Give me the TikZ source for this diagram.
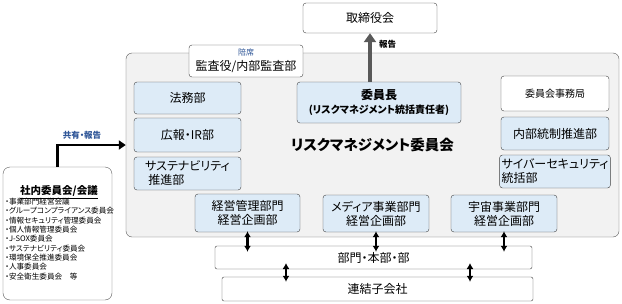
\documentclass[tikz,border=0pt]{standalone}
\usepackage{fontspec}
\setmainfont{Noto Sans CJK JP}[RawFeature=+palt]
\usetikzlibrary{arrows.meta, positioning}
\definecolor{boxblue}{HTML}{DDEBF7}
\definecolor{frame}{HTML}{404040}
\definecolor{panel}{HTML}{F2F2F2}
\definecolor{note}{HTML}{2E5597}
\definecolor{upgray}{HTML}{595959}

\begin{document}
\begin{tikzpicture}[x=1pt, y=-1pt,
    unit/.style={draw=frame, fill=boxblue, rounded corners=3pt, inner sep=2pt,
      font=\fontsize{12}{14}\selectfont, align=center},
    plain/.style={unit, fill=white},
    twoway/.style={{Latex[length=6pt,width=7pt]}-{Latex[length=6pt,width=7pt]},
      line width=2.3pt},
    report/.style={-{Triangle[length=9pt,width=12pt]}, upgray, line width=3.5pt},
    share/.style={-{Triangle[length=7pt,width=9pt]}, line width=2.6pt}]
  \useasboundingbox (0,0) rectangle (622,303);
  % committee panel with its title
  \node[draw=upgray, fill=panel, rounded corners=6pt, minimum width=493pt,
    minimum height=184pt, font=\bfseries\fontsize{14.5}{16}\selectfont]
    (rmc) at (372.5,145) {リスクマネジメント委員会};
  \node[plain, minimum width=134pt, minimum height=30pt] (board) at (370,18) {取締役会};
  \node[plain, minimum width=114pt, minimum height=32pt, inner sep=1pt] (audit) at (246,61)
    {{\fontsize{8}{9}\selectfont\color{note}陪席}\\[1pt]監査役/内部監査部};
  \node[unit, minimum width=164pt, minimum height=41pt, font=\bfseries\fontsize{12}{14}\selectfont]
    (chair) at (379,102.5) {委員長\\{\fontsize{10}{12}\selectfont(リスクマネジメント統括責任者)}};
  % left column
  \node[unit, minimum width=107pt, minimum height=32pt] (legal) at (187.5,98) {法務部};
  \node[unit, minimum width=107pt, minimum height=34pt] (pr) at (187.5,135) {広報・IR部};
  \node[unit, minimum width=107pt, minimum height=33pt, align=left] (sust) at (187.5,173.5)
    {サステナビリティ\\\hspace{3pt}推進部};
  % right column
  \node[plain, minimum width=108pt, minimum height=35pt, font=\fontsize{10}{12}\selectfont]
    (office) at (555,93.5) {委員会事務局};
  \node[unit, minimum width=108pt, minimum height=33pt] (ictrl) at (555,133.5) {内部統制推進部};
  \node[unit, minimum width=108pt, minimum height=33pt, align=left] (cyber) at (555,171.5)
    {サイバーセキュリティ\\統括部};
  % divisions on the bottom edge
  \node[unit, minimum width=105pt, minimum height=38pt] (mgmt) at (247.5,213) {経営管理部門\\経営企画部};
  \node[unit, minimum width=106pt, minimum height=37pt] (media) at (376,213.5) {メディア事業部門\\経営企画部};
  \node[unit, minimum width=106pt, minimum height=37pt] (space) at (504,213.5) {宇宙事業部門\\経営企画部};
  \node[plain, rounded corners=2pt, minimum width=317pt, minimum height=23pt] (dept) at (373.5,257.5) {部門・本部・部};
  \node[plain, rounded corners=2pt, minimum width=311pt, minimum height=24pt] (subs) at (377.5,289) {連結子会社};
  % internal committees
  \node[draw=upgray, fill=white, rounded corners=7pt, minimum width=109pt,
    minimum height=133pt] (inner) at (57.5,233.5) {};
  \node[font=\bfseries\fontsize{10.5}{12}\selectfont, inner sep=1pt] (innertitle) at (59,192)
    {\underline{社内委員会/会議}};
  \node[anchor=north west, align=left, inner sep=0pt,
    font=\fontsize{7.6}{9.3}\selectfont] (innerlist) at (5,198)
    {・事業部門経営会議\\・グループコンプライアンス委員会\\・情報セキュリティ管理委員会\\
     ・個人情報管理委員会\\・J-SOX委員会\\・サステナビリティ委員会\\
     ・環境保全推進委員会\\・人事委員会\\・安全衛生委員会\quad 等};
  % connectors
  \draw[report] (board.south |- chair.north) -- (board.south)
    node[pos=0.78, right=4pt, text=black, font=\bfseries\fontsize{8.5}{10}\selectfont] {報告};
  \draw[share] (inner.north) |- (rmc.west)
    node[pos=0.68, above=1pt, text=note, font=\bfseries\fontsize{8.5}{10}\selectfont] {共有・報告};
  \foreach \n in {mgmt, media, space}
    \draw[twoway, shorten <=-1pt, shorten >=-6pt] (\n.south) -- (\n.south |- dept.north);
  \coordinate (l1) at (286,269);
  \coordinate (l2) at (470,269);
  \foreach \c in {l1, l2}
    \draw[twoway, shorten <=-6pt, shorten >=-5pt] (\c) -- (\c |- subs.north);
\end{tikzpicture}
\end{document}
